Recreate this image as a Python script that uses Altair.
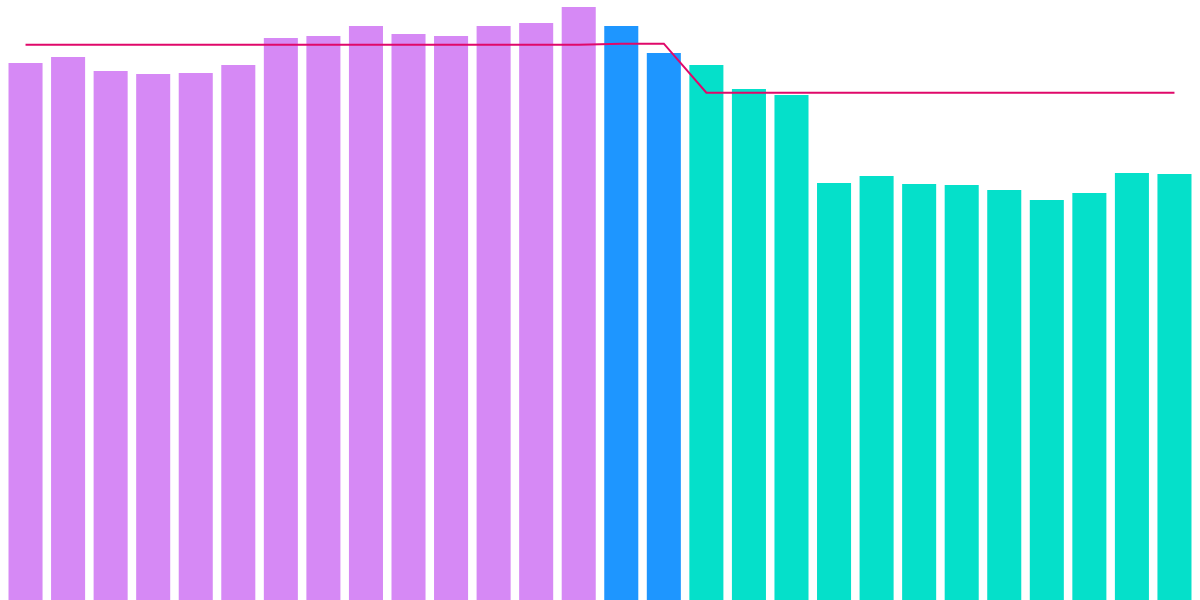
import altair as alt
import pandas as pd

periods = [f"P{i:02d}" for i in range(1, 29)]
bar_values = [537, 543, 529, 526, 527, 535, 562, 564, 574, 566, 564, 574, 577, 593,
              574, 547,
              535, 511, 505, 417, 424, 416, 415, 410, 400, 407, 427, 426]
groups = ["A"] * 14 + ["B"] * 2 + ["C"] * 12
line_values = [555.3] * 14 + [556.3] * 2 + [507.3] * 12

group_domain = ["A", "B", "C"]
group_colors = ["#D689F5", "#1E96FF", "#05E0CA"]
line_color = "#E0086A"

df = pd.DataFrame({"period": periods, "value": bar_values, "group": groups, "target": line_values})

x = alt.X("period:N", sort=periods, axis=None,
          scale=alt.Scale(paddingInner=0.2, paddingOuter=0.2))
yscale = alt.Scale(domain=[0, 600], nice=False, zero=True)

bars = alt.Chart(df).mark_bar().encode(
    x=x,
    y=alt.Y("value:Q", axis=None, scale=yscale),
    color=alt.Color("group:N", legend=None,
                    scale=alt.Scale(domain=group_domain, range=group_colors)),
)

line = alt.Chart(df).mark_line(color=line_color, strokeWidth=2).encode(
    x=x,
    y=alt.Y("target:Q", axis=None, scale=yscale),
)

chart = alt.layer(bars, line).properties(
    width=1200, height=600, padding=0, background="white",
    autosize=alt.AutoSizeParams(type="none")
).configure_view(stroke=None, strokeWidth=0)

chart.save("out.html", embed_options={"renderer": "svg", "actions": False})
